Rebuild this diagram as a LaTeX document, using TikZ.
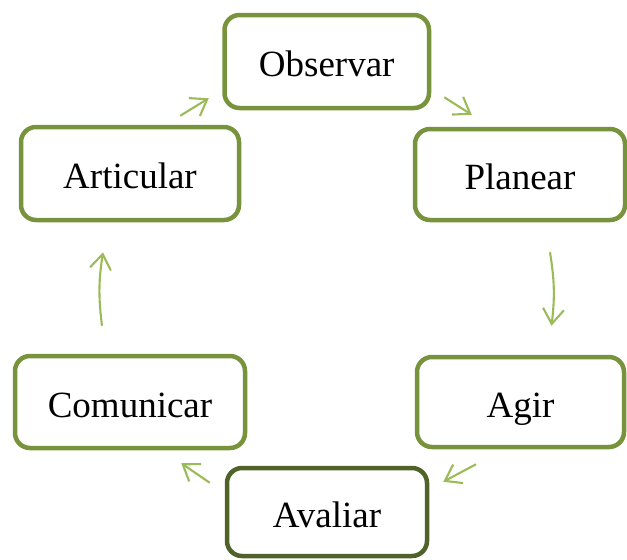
\documentclass[tikz,border=0pt]{standalone}
\usepackage{fontspec}
\setmainfont{Liberation Serif}
\usetikzlibrary{arrows.meta}
\definecolor{boxgreen}{HTML}{77933C}
\definecolor{darkgreen}{HTML}{4F6228}
\definecolor{arrgreen}{HTML}{9BBB59}
\begin{document}
\begin{tikzpicture}[x=1pt,y=-1pt,
  stage/.style={draw=boxgreen, line width=4.5pt, rounded corners=15pt, fill=white,
    inner sep=0pt, text height=33pt, text depth=3pt, font=\fontsize{37}{40}\selectfont},
  arr/.style={draw=arrgreen, line width=2.1pt,
    -{Straight Barb[length=15pt,width=21pt,line width=2.1pt]}}]
\useasboundingbox (0,0) rectangle (627,560);
\node[stage, minimum width=204.5pt, minimum height=93pt] (obs) at (326.75,61.5) {Observar};
\node[stage, minimum width=210pt, minimum height=91pt] (pla) at (520,174.5) {Planear};
\node[stage, minimum width=207pt, minimum height=90pt] (agi) at (520.5,402) {Agir};
\node[stage, draw=darkgreen, minimum width=200pt, minimum height=88pt] (ava) at (327,512) {Avaliar};
\node[stage, minimum width=230pt, minimum height=92pt] (com) at (130,402) {Comunicar};
\node[stage, minimum width=218pt, minimum height=93pt] (art) at (130,173.5) {Articular};
\draw[arr] ([shift={(-61,-9)}]art.north east) -- ([shift={(-13.5,-12)}]obs.south west);
\draw[arr] ([shift={(13,-13)}]obs.south east) -- ([shift={(59,-12)}]pla.north west);
\draw[arr] ([shift={(30,30)}]pla.south) to[bend left=8] ([shift={(31,-29)}]agi.north);
\draw[arr] ([shift={(-44.5,15)}]agi.south) -- ([shift={(14,16)}]ava.north east);
\draw[arr] ([shift={(-15,17)}]ava.north west) -- ([shift={(-66,13)}]com.south east);
\draw[arr] ([shift={(-28,-28)}]com.north) to[bend left=8] ([shift={(-27,30)}]art.south);
\end{tikzpicture}
\end{document}
